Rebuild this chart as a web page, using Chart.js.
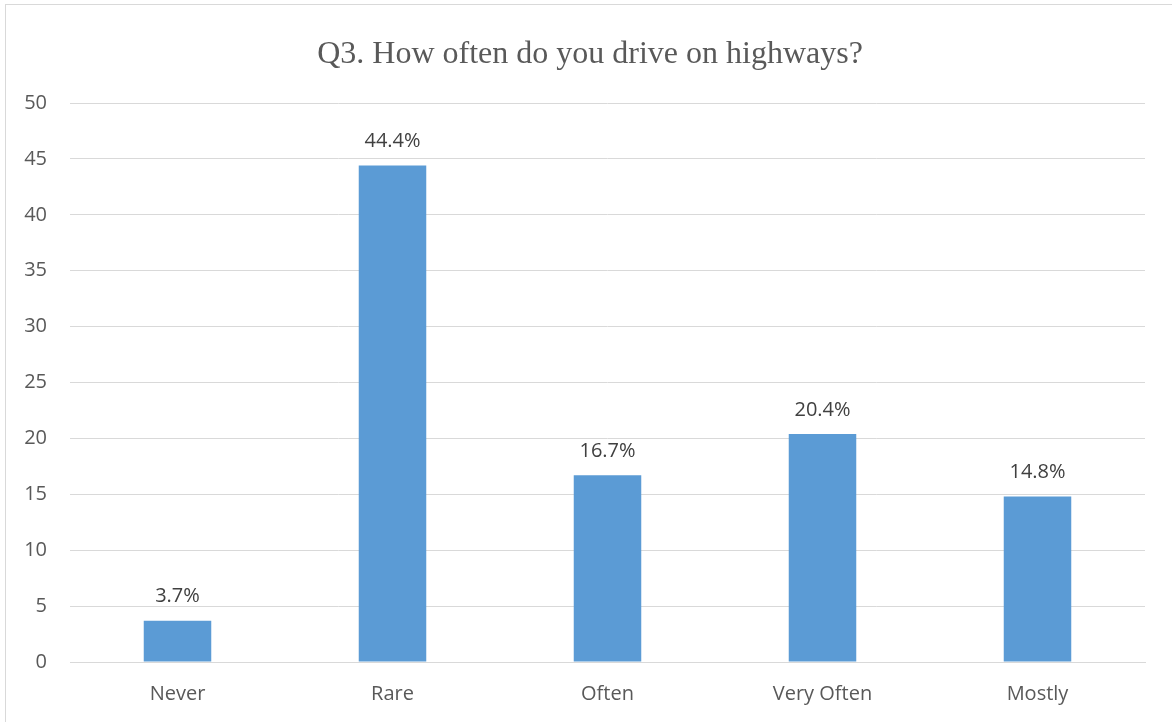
<!DOCTYPE html>
<html>
<head>
<meta charset="utf-8">
<script src="https://cdn.jsdelivr.net/npm/chart.js@4/dist/chart.umd.min.js"></script>
<style>
  html, body { margin: 0; padding: 0; background: #fff; }
  #wrap { position: relative; width: 1172px; height: 722px; overflow: hidden; }
  #frame { position: absolute; left: 5px; top: 4px; width: 1170px; height: 730px;
           border: 1.5px solid #d9d9d9; box-sizing: border-box; pointer-events: none; }
  canvas { position: absolute; left: 0; top: 0; }
</style>
</head>
<body>
<div id="wrap">
  <canvas id="chart" width="1172" height="722"></canvas>
  <div id="frame"></div>
</div>
<script>
// Survey answers: share of respondents per driving frequency
const categories = ["Never", "Rare", "Often", "Very Often", "Mostly"];
const percentages = [3.7, 44.4, 16.7, 20.4, 14.8];
const titleText = "Q3. How often do you drive on highways?";

const labelFont = { family: "'Open Sans', 'Liberation Sans', sans-serif", size: 20 };

// Writes each bar's value above it as a percentage
const valueLabels = {
  id: "valueLabels",
  afterDatasetsDraw(chart) {
    const ctx = chart.ctx;
    const meta = chart.getDatasetMeta(0);
    ctx.save();
    ctx.font = `${labelFont.size}px ${labelFont.family}`;
    ctx.fillStyle = "#404040";
    ctx.textAlign = "center";
    ctx.textBaseline = "middle";
    meta.data.forEach((bar, i) => {
      ctx.fillText(percentages[i].toFixed(1) + "%", bar.x, bar.y - 24);
    });
    ctx.restore();
  }
};

new Chart(document.getElementById("chart"), {
  type: "bar",
  data: {
    labels: categories,
    datasets: [{
      data: percentages,
      backgroundColor: "#5b9bd5",
      borderWidth: 0,
      categoryPercentage: 1,
      barPercentage: 0.314
    }]
  },
  options: {
    responsive: false,
    animation: false,
    layout: { padding: { left: 8, right: 0, top: 0, bottom: 0 } },
    plugins: {
      legend: { display: false },
      tooltip: { enabled: false },
      title: {
        display: true,
        text: titleText,
        color: "#595959",
        font: { family: "'Liberation Serif', 'Times New Roman', serif", size: 32, weight: "normal", lineHeight: 1.2 },
        padding: { top: 35, bottom: 29.6 }
      }
    },
    scales: {
      x: {
        grid: { display: false, drawTicks: false },
        border: { display: true, color: "#d9d9d9", width: 1 },
        ticks: { color: "#595959", font: labelFont, padding: 20, maxRotation: 0 },
        afterFit(scale) { scale.height = 60; }
      },
      y: {
        min: 0,
        max: 50,
        grid: { color: "#d9d9d9", lineWidth: 1, drawTicks: false },
        border: { display: false },
        ticks: { stepSize: 5, color: "#595959", font: labelFont, padding: 23 },
        afterFit(scale) { scale.width = 62; }
      },
      // empty right-hand margin axis
      yRight: {
        position: "right",
        min: 0,
        max: 50,
        grid: { display: false, drawTicks: false },
        border: { display: false },
        ticks: { display: false },
        afterFit(scale) { scale.width = 27; }
      }
    }
  },
  plugins: [valueLabels]
});
</script>
</body>
</html>
